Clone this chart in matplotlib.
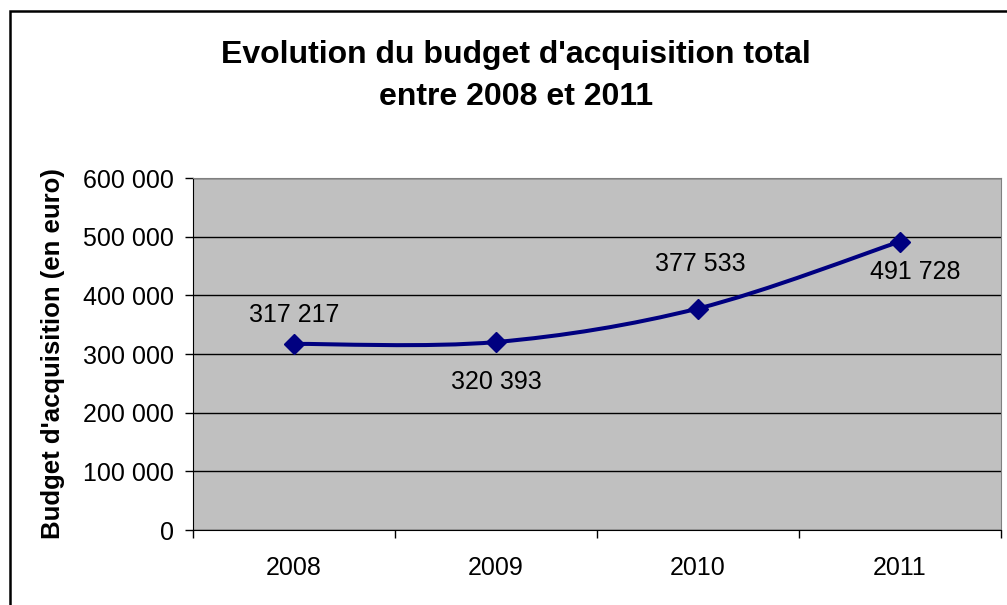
import matplotlib
matplotlib.use('Agg')
import matplotlib.pyplot as plt
from matplotlib.path import Path
from matplotlib.patches import PathPatch, Rectangle
from matplotlib.ticker import FuncFormatter, FixedLocator

plt.rcParams['font.family'] = ['Liberation Sans', 'DejaVu Sans']

# Data
years = ['2008', '2009', '2010', '2011']
budget = [317217, 320393, 377533, 491728]
# label offsets (points) for each data label
label_offsets = [(0, 21), (0, -29), (2, 32), (11, -22)]

NAVY = '#000080'


def fmt_space(v, pos=None):
    return f'{int(round(v)):,}'.replace(',', ' ')


def smooth_path(xs, ys):
    # Excel-like smoothed line: cubic Bezier through all points
    pts = list(zip(xs, ys))
    n = len(pts)
    verts = [pts[0]]
    codes = [Path.MOVETO]
    for i in range(n - 1):
        p0 = pts[i - 1] if i > 0 else pts[i]
        p1 = pts[i]
        p2 = pts[i + 1]
        p3 = pts[i + 2] if i + 2 < n else pts[i + 1]
        c1 = (p1[0] + (p2[0] - p0[0]) / 6, p1[1] + (p2[1] - p0[1]) / 6)
        c2 = (p2[0] - (p3[0] - p1[0]) / 6, p2[1] - (p3[1] - p1[1]) / 6)
        verts += [c1, c2, p2]
        codes += [Path.CURVE4] * 3
    return Path(verts, codes)


fig = plt.figure(figsize=(10.07, 6.05), dpi=100)
fig.patch.set_facecolor('white')
ax = fig.add_axes([193 / 1007, 75 / 605, 808 / 1007, 352 / 605])
ax.set_facecolor('#C0C0C0')

x = list(range(len(years)))
ax.add_patch(PathPatch(smooth_path(x, budget), facecolor='none',
                       edgecolor=NAVY, linewidth=2.9, zorder=3))
ax.plot(x, budget, linestyle='none', marker='D', markersize=10,
        color=NAVY, zorder=4)

for xi, v, off in zip(x, budget, label_offsets):
    ax.annotate(fmt_space(v), xy=(xi, v), xytext=off, textcoords='offset points',
                ha='center', va='center', fontsize=18, color='black', zorder=5)

ax.set_xlim(-0.5, len(years) - 0.5)
ax.set_ylim(0, 600000)
ax.set_yticks(range(0, 600001, 100000))
ax.yaxis.set_major_formatter(FuncFormatter(fmt_space))
ax.grid(True, axis='y', color='black', linewidth=1)
ax.set_axisbelow(True)

# category boundary ticks, labels at category centres
ax.xaxis.set_major_locator(FixedLocator([i - 0.5 for i in range(len(years) + 1)]))
ax.xaxis.set_minor_locator(FixedLocator(x))
ax.set_xticklabels([''] * (len(years) + 1))
ax.set_xticklabels(years, minor=True)
ax.tick_params(axis='x', which='major', length=6, width=1, direction='out')
ax.tick_params(axis='x', which='minor', length=0, pad=19, labelsize=18)
ax.tick_params(axis='y', length=6, width=1, direction='out', pad=8, labelsize=18)

for side in ['top', 'right']:
    ax.spines[side].set_color('#808080')
for side in ['left', 'bottom']:
    ax.spines[side].set_color('black')

ax.set_ylabel("Budget d'acquisition (en euro)", fontsize=18.5, fontweight='bold')
ax.yaxis.set_label_coords(-0.173, 0.5)
ax.yaxis.label.set_va('center')

fig.text(516 / 1007, 1 - 76 / 605,
         "Evolution du budget d'acquisition total\nentre 2008 et 2011",
         ha='center', va='center', fontsize=23, fontweight='bold',
         linespacing=1.55)

# chart area border (extends beyond the image on right and bottom)
fig.patches.append(Rectangle((10 / 1007, -0.1), 1.2, 1.1 - 11 / 605,
                             transform=fig.transFigure, fill=False,
                             edgecolor='black', linewidth=1.8, zorder=0))

fig.savefig('out.png', dpi=100)
